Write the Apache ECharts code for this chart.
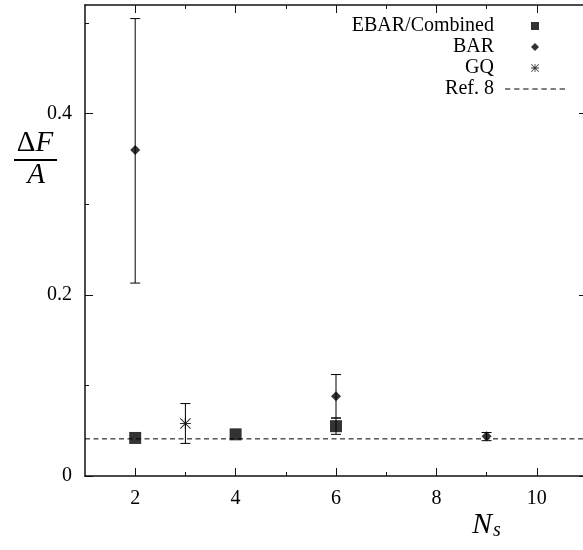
<!DOCTYPE html>
<html>
<head>
<meta charset="utf-8">
<script src="https://cdn.jsdelivr.net/npm/echarts@6/dist/echarts.min.js"></script>
<style>
  html, body { margin: 0; padding: 0; background: #fff; }
  #chart { width: 583px; height: 550px; }
</style>
</head>
<body>
<div id="chart"></div>
<script>
// data
var ebarX = [2, 4, 6]
var ebarY = [0.042, 0.046, 0.055]
var barX = [2, 6, 9]
var barY = [0.36, 0.088, 0.044]
var gqX = [3]
var gqY = [0.058]
var refX = [1, 11]
var refY = [0.041, 0.041]
// error bars: x, low, high
var errX = [6, 2, 6, 9, 3]
var errLow = [0.046, 0.213, 0.064, 0.039, 0.036]
var errHigh = [0.064, 0.505, 0.112, 0.048, 0.080]
// ticks
var xMajor = [2, 4, 6, 8, 10]
var xMinor = [3, 5, 7, 9]
var yMajor = [0, 0.2, 0.4]
var yMinor = [0.1, 0.3, 0.5]

var FONT = '"Liberation Serif", "DejaVu Serif", serif'
var starPath = 'path://M0,0.45H1V0.55H0Z M0.45,0H0.55V1H0.45Z M0.07,0L1,0.93L0.93,1L0,0.07Z M0.93,0L1,0.07L0.07,1L0,0.93Z'
var squarePath = 'path://M0,0H1V1H0Z'
var diamondPath = 'path://M0.5,0L1,0.5L0.5,1L0,0.5Z'
var dashPath = 'path://M0,0h5v1h-5z M8.5,0h5v1h-5z M17,0h5v1h-5z M25.5,0h5v1h-5z M34,0h5v1h-5z M42.5,0h5v1h-5z M51,0h5v1h-5z'

function zip(a, b) {
  return a.map(function (v, i) { return [v, b[i]] })
}

// one axis = one set of tick marks; several are stacked to make the frame
function makeAxis(pos, min, max, ticks, len, showLine, showLabel) {
  return {
    type: 'value',
    position: pos,
    min: min,
    max: max,
    axisLine: { show: showLine, onZero: false, lineStyle: { color: '#111', width: 1.5 } },
    axisTick: { show: true, inside: true, length: len, customValues: ticks, lineStyle: { color: '#111', width: 1 } },
    axisLabel: {
      show: showLabel,
      customValues: ticks,
      margin: 13,
      color: '#000',
      fontFamily: FONT,
      fontSize: 20
    },
    splitLine: { show: false }
  }
}

var myChart = echarts.init(document.getElementById('chart'))

var option = {
  backgroundColor: '#fff',
  animation: false,
  grid: { left: 85, top: 5, width: 502, height: 471, containLabel: false, outerBoundsMode: 'none' },
  xAxis: [
    makeAxis('bottom', 1, 11, xMajor, 8, true, true),
    makeAxis('bottom', 1, 11, xMinor, 4, false, false),
    makeAxis('top', 1, 11, xMajor, 8, true, false),
    makeAxis('top', 1, 11, xMinor, 4, false, false)
  ],
  yAxis: [
    makeAxis('left', 0, 0.52, yMajor, 8, true, true),
    makeAxis('left', 0, 0.52, yMinor, 4, false, false),
    makeAxis('right', 0, 0.52, yMajor, 8, true, false),
    makeAxis('right', 0, 0.52, yMinor, 4, false, false)
  ],
  legend: {
    orient: 'vertical',
    right: 13,
    top: 11,
    align: 'right',
    itemWidth: 60,
    itemHeight: 8,
    itemGap: 1,
    selectedMode: false,
    textStyle: { fontFamily: FONT, fontSize: 20, color: '#000', padding: [0, 6, 0, 0] },
    data: [
      { name: 'EBAR/Combined', icon: squarePath, itemStyle: { color: '#000', borderWidth: 0 } },
      { name: 'BAR', icon: diamondPath, itemStyle: { color: '#000', borderWidth: 0 } },
      { name: 'GQ', icon: starPath, itemStyle: { color: '#000', borderWidth: 0 } },
      { name: 'Ref. 8', icon: dashPath, itemStyle: { color: '#000', borderWidth: 0 } }
    ]
  },
  graphic: [
    {
      type: 'text',
      x: 35, y: 158,
      style: {
        text: '{d|Δ}{f|F}',
        align: 'center',
        verticalAlign: 'bottom',
        rich: {
          d: { fontFamily: FONT, fontSize: 29, fill: '#000' },
          f: { fontFamily: FONT, fontSize: 29, fontStyle: 'italic', fill: '#000' }
        }
      }
    },
    {
      type: 'line',
      shape: { x1: 14, y1: 160, x2: 57, y2: 160 },
      style: { stroke: '#000', lineWidth: 2 }
    },
    {
      type: 'text',
      x: 36, y: 161,
      style: { text: 'A', fontFamily: FONT, fontSize: 29, fontStyle: 'italic', fill: '#000', align: 'center', verticalAlign: 'top' }
    },
    {
      type: 'text',
      x: 472, y: 541,
      style: {
        text: '{n|N}{s|s}',
        verticalAlign: 'bottom',
        rich: {
          n: { fontFamily: FONT, fontSize: 30, fontStyle: 'italic', fill: '#000' },
          s: { fontFamily: FONT, fontSize: 20, fontStyle: 'italic', fill: '#000', padding: [12, 0, 0, 1] }
        }
      }
    }
  ],
  series: [
    {
      name: 'Ref. 8',
      type: 'line',
      color: '#000',
      symbol: 'none',
      lineStyle: { color: '#000', width: 1, type: [5, 3.5] },
      data: zip(refX, refY),
      z: 1
    },
    {
      name: 'errors',
      type: 'custom',
      z: 2,
      renderItem: function (params, api) {
        var x = api.value(0)
        var lo = api.coord([x, api.value(1)])
        var hi = api.coord([x, api.value(2)])
        var w = 5
        var st = { stroke: '#000', lineWidth: 1 }
        return {
          type: 'group',
          children: [
            { type: 'line', shape: { x1: lo[0], y1: lo[1], x2: hi[0], y2: hi[1] }, style: st },
            { type: 'line', shape: { x1: lo[0] - w, y1: lo[1], x2: lo[0] + w, y2: lo[1] }, style: st },
            { type: 'line', shape: { x1: hi[0] - w, y1: hi[1], x2: hi[0] + w, y2: hi[1] }, style: st }
          ]
        }
      },
      data: errX.map(function (x, i) { return [x, errLow[i], errHigh[i]] })
    },
    {
      name: 'EBAR/Combined',
      type: 'scatter',
      symbol: 'rect',
      symbolSize: 12,
      itemStyle: { color: '#000' },
      data: zip(ebarX, ebarY),
      z: 3
    },
    {
      name: 'BAR',
      type: 'scatter',
      symbol: 'diamond',
      symbolSize: [10, 10],
      itemStyle: { color: '#000' },
      data: zip(barX, barY),
      z: 3
    },
    {
      name: 'GQ',
      type: 'scatter',
      symbol: starPath,
      symbolSize: 11,
      itemStyle: { color: '#000' },
      data: zip(gqX, gqY),
      z: 3
    }
  ]
}

option && myChart.setOption(option)
</script>
</body>
</html>
